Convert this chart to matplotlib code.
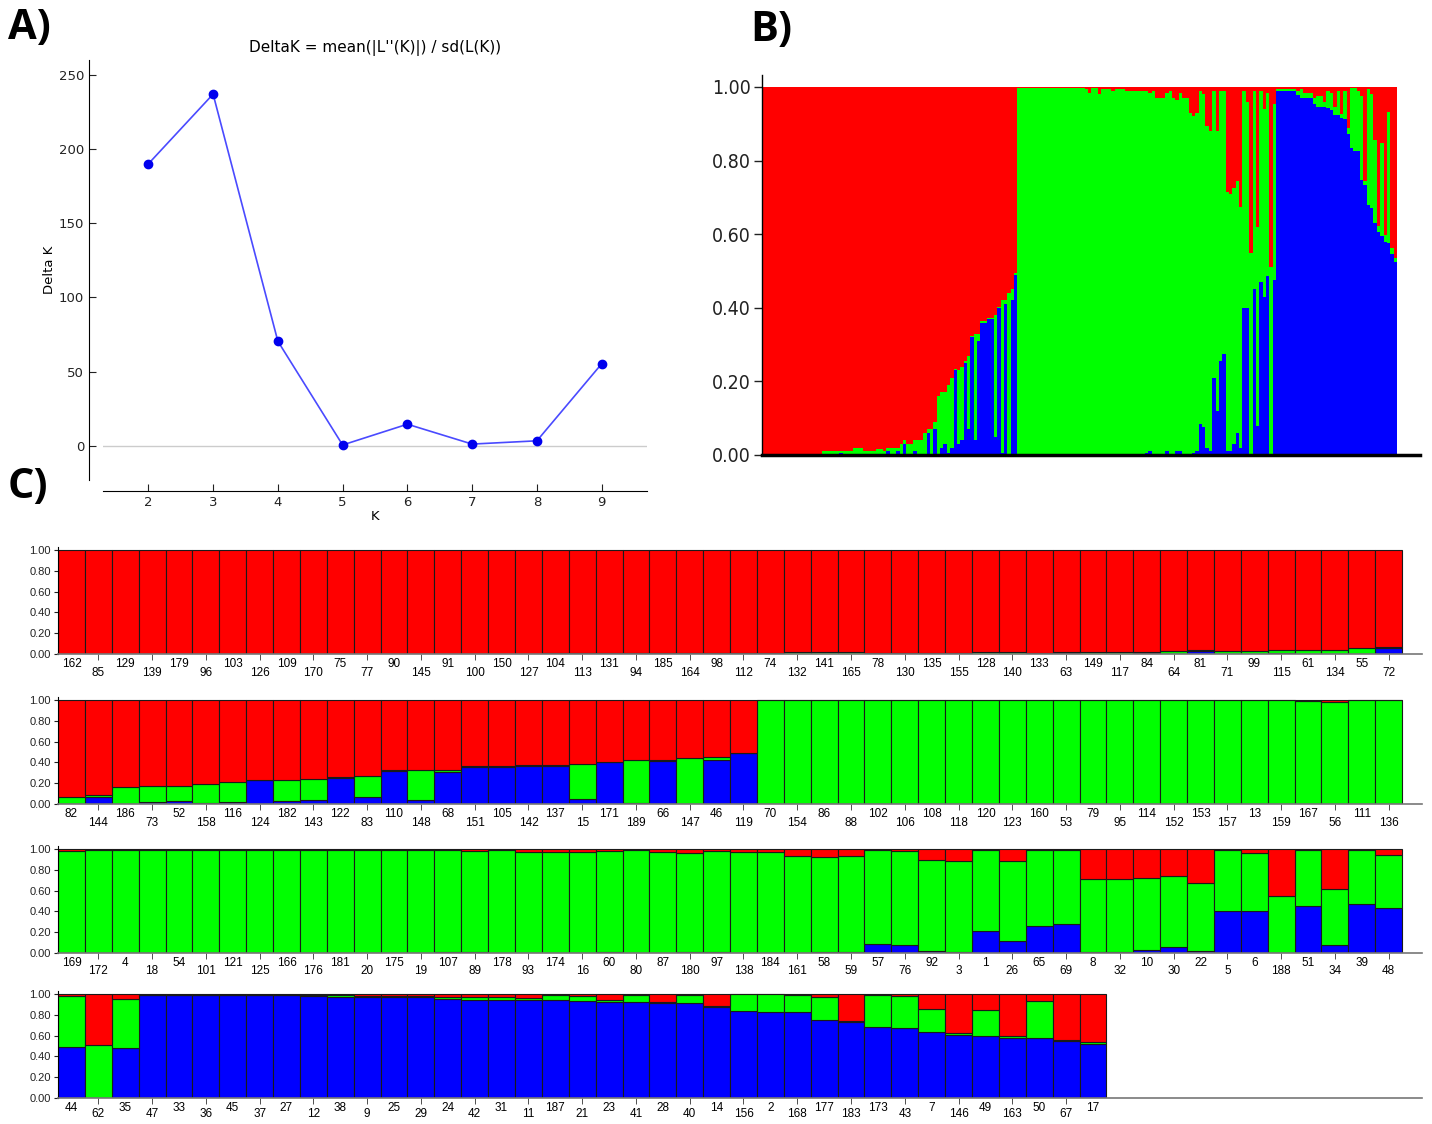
import matplotlib.pyplot as plt
import numpy as np

W, H = 1432, 1124

# ---- Panel A data (Evanno DeltaK)
k_values = [2, 3, 4, 5, 6, 7, 8, 9]
delta_k = [190, 237, 70.5, 0.6, 14.6, 1.2, 3.4, 55.3]

# ---- Panel C data: individual labels and membership (blue = bottom, green = middle, red = rest)
row1_ids = [162, 85, 129, 139, 179, 96, 103, 126, 109, 170, 75, 77, 90, 145, 91, 100, 150, 127,
            104, 113, 131, 94, 185, 164, 98, 112, 74, 132, 141, 165, 78, 130, 135, 155, 128, 140,
            133, 63, 149, 117, 84, 64, 81, 71, 99, 115, 61, 134, 55, 72]
row1_blue = [0, 0, 0, 0, 0, 0, 0, 0, 0, 0, 0, 0, 0, 0, 0, 0, 0, 0,
             0, 0, 0, 0, 0, 0.005, 0, 0, 0, 0, 0, 0, 0, 0, 0, 0, 0, 0,
             0, 0.01, 0, 0, 0.01, 0, 0.03, 0, 0, 0.01, 0, 0, 0, 0.06]
row1_green = [0.002, 0.002, 0.002, 0.002, 0.002, 0.002, 0.002, 0.002, 0.002, 0.002, 0.002, 0.002,
              0.002, 0.002, 0.002, 0.002, 0.002, 0.002,
              0.01, 0.01, 0.01, 0.01, 0.01, 0.005, 0.01, 0.01, 0.01, 0.02, 0.02, 0.02, 0.01, 0.01,
              0.01, 0.01, 0.015, 0.015, 0.01, 0.01, 0.02, 0.02, 0.01, 0.03, 0.01, 0.03, 0.03, 0.03,
              0.04, 0.04, 0.06, 0.01]

row2_ids = [82, 144, 186, 73, 52, 158, 116, 124, 182, 143, 122, 83, 110, 148, 68, 151, 105, 142,
            137, 15, 171, 189, 66, 147, 46, 119, 70, 154, 86, 88, 102, 106, 108, 118, 120, 123,
            160, 53, 79, 95, 114, 152, 153, 157, 13, 159, 167, 56, 111, 136]
row2_blue = [0, 0.07, 0, 0.02, 0.03, 0.005, 0.02, 0.23, 0.03, 0.04, 0.25, 0.07, 0.32, 0.04, 0.31,
             0.36, 0.36, 0.37, 0.37, 0.05, 0.40, 0.005, 0.41, 0, 0.42, 0.49,
             0, 0, 0, 0, 0, 0, 0, 0, 0, 0, 0, 0, 0, 0, 0, 0, 0, 0, 0, 0, 0, 0, 0, 0]
row2_green = [0.07, 0.02, 0.16, 0.15, 0.14, 0.185, 0.19, 0.005, 0.20, 0.20, 0.005, 0.20, 0.003,
              0.29, 0.02, 0.003, 0.003, 0.003, 0.003, 0.33, 0.003, 0.415, 0.01, 0.44, 0.03, 0.005,
              0.997, 0.997, 0.997, 0.997, 0.997, 0.997, 0.997, 0.997, 0.997, 0.997, 0.997, 0.997,
              0.997, 0.997, 0.997, 0.997, 0.997, 0.997, 0.997, 0.997, 0.995, 0.985, 0.997, 0.997]

row3_ids = [169, 172, 4, 18, 54, 101, 121, 125, 166, 176, 181, 20, 175, 19, 107, 89, 178, 93,
            174, 16, 60, 80, 87, 180, 97, 138, 184, 161, 58, 59, 57, 76, 92, 3, 1, 26, 65, 69,
            8, 32, 10, 30, 22, 5, 6, 188, 51, 34, 39, 48]
row3_blue = [0, 0, 0, 0.003, 0, 0.003, 0.003, 0.003, 0, 0, 0, 0, 0, 0, 0.005, 0.01, 0, 0.003,
             0, 0.003, 0.01, 0.003, 0, 0.01, 0.01, 0, 0, 0, 0.005, 0.01, 0.083, 0.075, 0.02, 0.01,
             0.21, 0.12, 0.255, 0.275, 0.01, 0.01, 0.03, 0.06, 0.02, 0.40, 0.40, 0, 0.45, 0.08,
             0.47, 0.43]
row3_green = [0.98, 0.995, 0.995, 0.992, 0.99, 0.992, 0.992, 0.992, 0.99, 0.99, 0.99, 0.99, 0.99,
              0.99, 0.985, 0.975, 0.99, 0.967, 0.97, 0.967, 0.975, 0.987, 0.97, 0.955, 0.975,
              0.97, 0.97, 0.93, 0.915, 0.92, 0.907, 0.905, 0.875, 0.87, 0.78, 0.76, 0.735, 0.715,
              0.706, 0.70, 0.695, 0.685, 0.655, 0.59, 0.56, 0.55, 0.54, 0.54, 0.52, 0.51]

row4_ids = [44, 62, 35, 47, 33, 36, 45, 37, 27, 12, 38, 9, 25, 29, 24, 42, 31, 11, 187, 21, 23,
            41, 28, 40, 14, 156, 2, 168, 177, 183, 173, 43, 7, 146, 49, 163, 50, 67, 17]
row4_blue = [0.486, 0, 0.476, 0.99, 0.99, 0.99, 0.99, 0.99, 0.99, 0.978, 0.97, 0.97, 0.97, 0.97,
             0.955, 0.946, 0.946, 0.946, 0.943, 0.937, 0.924, 0.924, 0.917, 0.914, 0.872, 0.834,
             0.827, 0.827, 0.748, 0.735, 0.68, 0.67, 0.63, 0.607, 0.594, 0.58, 0.575, 0.546, 0.524]
row4_green = [0.498, 0.51, 0.479, 0.005, 0.005, 0.005, 0.005, 0.005, 0.005, 0.012, 0.024, 0.015,
              0.015, 0.015, 0.015, 0.029, 0.029, 0.014, 0.047, 0.047, 0.022, 0.066, 0.01, 0.076,
              0.016, 0.163, 0.17, 0.163, 0.227, 0.01, 0.314, 0.31, 0.226, 0.016, 0.253, 0.017,
              0.358, 0.016, 0.01]

RED, GREEN, BLUE = '#ff0000', '#00ff00', '#0000ff'


def px(x0, y0, x1, y1):
    return [x0 / W, 1 - y1 / H, (x1 - x0) / W, (y1 - y0) / H]


fig = plt.figure(figsize=(W / 100, H / 100), dpi=100)

# ---------------- Panel A
axA = fig.add_axes(px(103, 60, 647, 480))
axA.axhline(0, color='#cccccc', lw=1, zorder=1)
axA.plot(k_values, delta_k, color='#4a4aff', lw=1.2, marker='o', markersize=6,
         markerfacecolor='#0000ee', markeredgecolor='#0000ee', zorder=3)
axA.set_xlim(1.3, 9.7)
axA.set_ylim(-23, 260)
axA.set_xticks(k_values)
axA.set_yticks([0, 50, 100, 150, 200, 250])
for s in ['top', 'right']:
    axA.spines[s].set_visible(False)
axA.spines['left'].set_position(('outward', 10))
axA.spines['bottom'].set_position(('outward', 8))
axA.tick_params(direction='in', labelsize=9.5, colors='#222222', length=5)
axA.set_title("DeltaK = mean(|L''(K)|) / sd(L(K))", fontsize=11, pad=6)
axA.set_ylabel('Delta K', fontsize=9.5, labelpad=2)
axA.set_xlabel('K', fontsize=9.5, labelpad=1)

# ---------------- Panel B (all individuals, same order as panel C)
all_blue = np.array(row1_blue + row2_blue + row3_blue + row4_blue)
all_green = np.array(row1_green + row2_green + row3_green + row4_green)
all_red = 1 - all_blue - all_green
n_all = len(all_blue)
xb = np.arange(n_all)
axB = fig.add_axes(px(762, 75, 1420, 455))
axB.bar(xb, all_blue, width=1.0, align='edge', color=BLUE, lw=0)
axB.bar(xb, all_green, bottom=all_blue, width=1.0, align='edge', color=GREEN, lw=0)
axB.bar(xb, all_red, bottom=all_blue + all_green, width=1.0, align='edge', color=RED, lw=0)
axB.set_xlim(0, n_all * 658 / 635)
axB.set_ylim(0, 1.0 + 12 / 368)
axB.set_yticks(np.arange(0, 1.01, 0.2))
axB.set_yticklabels(['%.2f' % v for v in np.arange(0, 1.01, 0.2)],
                    family='DejaVu Sans', stretch='condensed', fontsize=14)
axB.set_xticks([])
for s in ['top', 'right']:
    axB.spines[s].set_visible(False)
axB.spines['bottom'].set_linewidth(2.5)
axB.spines['left'].set_linewidth(1)
axB.tick_params(axis='y', length=6, width=1, pad=2, colors='#222222')

# ---------------- Panel C (four rows)
rows = [(row1_ids, row1_blue, row1_green, 550, 5),
        (row2_ids, row2_blue, row2_green, 700, 5),
        (row3_ids, row3_blue, row3_green, 849, 5),
        (row4_ids, row4_blue, row4_green, 994, 3.5)]
cfont = ['Liberation Sans', 'DejaVu Sans']
for ids, blue, green, ytop, mpad in rows:
    blue = np.array(blue)
    green = np.array(green)
    red = 1 - blue - green
    n = len(ids)
    x = np.arange(n) + 0.5
    ax = fig.add_axes(px(58, ytop - 3, 1422, ytop + 104))
    kw = dict(width=1.0, edgecolor='#1a1a1a', linewidth=0.8)
    ax.bar(x, blue, color=BLUE, **kw)
    ax.bar(x, green, bottom=blue, color=GREEN, **kw)
    ax.bar(x, red, bottom=blue + green, color=RED, **kw)
    ax.set_xlim(0, 50.74)
    ax.set_ylim(0, 1.0 + 3 / 104)
    ax.set_yticks(np.arange(0, 1.01, 0.2))
    ax.set_yticklabels(['%.2f' % v for v in np.arange(0, 1.01, 0.2)], family=cfont, fontsize=8)
    ax.set_xticks(x[0::2], [str(i) for i in ids[0::2]], family=cfont, fontsize=8.5)
    ax.set_xticks(x[1::2], [str(i) for i in ids[1::2]], minor=True, family=cfont, fontsize=8.5)
    ax.tick_params(axis='x', which='major', length=0, pad=3)
    ax.tick_params(axis='x', which='minor', length=4, pad=mpad, color='#333333')
    ax.tick_params(axis='y', length=3, pad=2, colors='#222222')
    for s in ['top', 'right']:
        ax.spines[s].set_visible(False)
    ax.spines['bottom'].set_color('#777777')
    ax.spines['bottom'].set_linewidth(1.2)

# ---------------- panel letters
lab = dict(fontsize=30, fontweight='bold', family=['Open Sans', 'DejaVu Sans'], va='top')
fig.text(8 / W, 1 - 8 / H, 'A)', **lab)
fig.text(750 / W, 1 - 10 / H, 'B)', **lab)
fig.text(8 / W, 1 - 467 / H, 'C)', **lab)

fig.savefig('out.png', dpi=100)
